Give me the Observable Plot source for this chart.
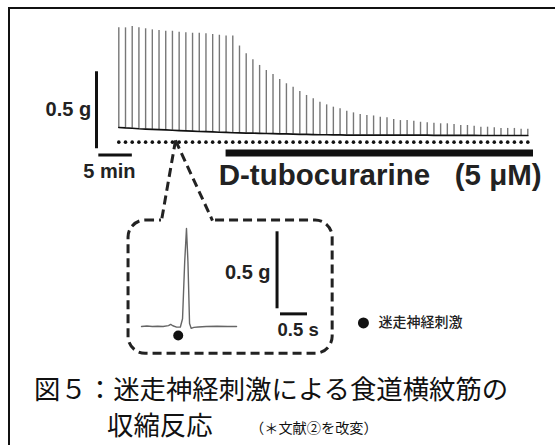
<!DOCTYPE html>
<html><head><meta charset="utf-8">
<script src="https://cdn.jsdelivr.net/npm/d3@7"></script>
<script src="https://cdn.jsdelivr.net/npm/@observablehq/plot@0.6"></script>
<style>
html,body{margin:0;padding:0;background:#fff;}
#wrap{position:relative;width:555px;height:445px;overflow:hidden;background:#fff;}
#wrap svg{position:absolute;left:0;top:0;background:transparent;}
.ft{position:absolute;left:8px;top:7px;width:547px;height:0;border-top:2.5px solid #111;}
.fl{position:absolute;left:8px;top:7px;width:0;height:438px;border-left:2.5px solid #111;}
.cap{position:absolute;font-family:"Noto Sans CJK JP",sans-serif;color:#111;line-height:1;white-space:nowrap;}
</style></head>
<body><div id="wrap"><div class="ft"></div><div class="fl"></div></div>
<script>
// ---- main recording: one twitch per minute (peak & baseline in g, relative to initial baseline)
const peaks = [0.647,0.647,0.656,0.647,0.641,0.634,0.630,0.625,0.625,0.619,
  0.615,0.612,0.612,0.608,0.604,0.599,0.594,0.594,0.529,0.479,
  0.440,0.403,0.370,0.344,0.312,0.284,0.262,0.234,0.208,0.186,
  0.164,0.147,0.132,0.121,0.106,0.095,0.084,0.078,0.075,0.067,
  0.063,0.052,0.045,0.045,0.041,0.034,0.031,0.028,0.024,0.024,
  0.019,0.013,0.013,0.008,0.002,0.002,-0.002,-0.006,-0.006,-0.006,
  -0.011,-0.011];
const baseline = [0,-0.003,-0.005,-0.008,-0.010,-0.012,
  -0.014,-0.016,-0.018,-0.020,-0.022,-0.024,
  -0.026,-0.027,-0.029,-0.031,-0.032,-0.034,
  -0.035,-0.036,-0.037,-0.038,-0.039,-0.040,
  -0.041,-0.042,-0.043,-0.044,-0.045,-0.046,
  -0.047,-0.047,-0.048,-0.048,-0.049,-0.049,
  -0.049,-0.049,-0.049,-0.050,-0.050,-0.050,
  -0.050,-0.050,-0.050,-0.050,-0.050,-0.051,
  -0.051,-0.051,-0.051,-0.051,-0.051,-0.051,
  -0.052,-0.052,-0.052,-0.052,-0.052,-0.052,
  -0.052,-0.052];
const stimLevel = -0.095;           // row of stimulus markers
const drug = {label:"D-tubocurarine\u00a0\u00a0 (5 μM)", start:16, end:61.85, level:-0.166};
const mainScale = {gLabel:"0.5 g", tLabel:"5 min", g:0.5, min:5};
const callout = {t:8.46, y:-0.084, tLeft:6.37, tRight:13.97, yTop:-0.604};

// ---- inset: single twitch (time in s, force in g)
const insetT = [0,0.10,0.20,0.30,0.40,0.50,0.54,0.58,0.65,0.72,0.76,0.80,0.833,0.86,0.89,0.92,0.97,1.05,1.20,1.40,1.60,1.76];
const insetG = [0,0.003,0,0.002,0,0.006,0.014,0.005,-0.004,-0.003,0.05,0.42,0.636,0.42,0.02,-0.012,-0.006,-0.003,0,0.002,0,0];
const insetStim = {t:0.68, g:-0.058};
const legendLabel = "迷走神経刺激";
const insetScale = {gLabel:"0.5 g", sLabel:"0.5 s", g:0.5, s:0.5};

const spikes = peaks.map((p,i)=>({t:i, peak:p, base:baseline[i]}));
const latin = "Liberation Sans, Arial, sans-serif";
const wrap = document.getElementById("wrap");

// inset plot (drawn first, underneath)
const inset = Plot.plot({
  width:555, height:445, style:{background:"transparent"},
  x:{domain:[0,1], range:[141,195], axis:null},
  y:{domain:[0,0.5], range:[326,249], axis:null},
  marks:[
    Plot.rect([{x1:-0.24,x2:3.54,y1:-0.177,y2:0.688}],{x1:"x1",x2:"x2",y1:"y1",y2:"y2",rx:17,fill:"none",stroke:"#222",strokeWidth:3,strokeDasharray:"9,5"}),
    Plot.ruleY([0.688],{x1:0.37,x2:1.31,stroke:"white",strokeWidth:7}),
    Plot.line(insetT.map((t,i)=>({t,g:insetG[i]})),{x:"t",y:"g",stroke:"#666",strokeWidth:1.4}),
    Plot.dot([insetStim],{x:"t",y:"g",r:5,fill:"#111"}),
    Plot.ruleX([2.51],{y1:0.115,y2:0.115+insetScale.g,stroke:"#111",strokeWidth:3}),
    Plot.ruleY([0.082],{x1:2.574,x2:2.574+insetScale.s,stroke:"#111",strokeWidth:3}),
    Plot.text([insetScale.gLabel],{x:2.39,y:0.347,text:d=>d,textAnchor:"end",fontFamily:latin,fontWeight:"bold",fontSize:20,fill:"#222"}),
    Plot.text([insetScale.sLabel],{x:2.9,y:-0.026,text:d=>d,fontFamily:latin,fontWeight:"bold",fontSize:18.5,fill:"#222"}),
    Plot.dot([0],{x:4.11,y:0.023,r:5.5,fill:"#111"}),
    Plot.text([legendLabel],{x:4.39,y:0.023,text:d=>d,textAnchor:"start",fontFamily:"Noto Sans CJK JP",fontWeight:500,fontSize:14,fill:"#222"})
  ]
});
wrap.appendChild(inset);

// main recording plot (on top)
const main = Plot.plot({
  width:555, height:445, style:{background:"transparent"},
  x:{domain:[0,61], range:[118.3,527.3], axis:null},
  y:{domain:[0,0.5], range:[127,50], axis:null},
  marks:[
    Plot.ruleX(spikes,{x:"t",y1:"base",y2:"peak",stroke:"#777",strokeWidth:1.4}),
    Plot.line(spikes,{x:"t",y:"base",stroke:"#111",strokeWidth:1.7}),
    Plot.dot(spikes,{x:"t",y:()=>stimLevel,r:1.8,fill:"#111"}),
    Plot.ruleY([drug],{x1:"start",x2:"end",y:"level",stroke:"#111",strokeWidth:7}),
    Plot.text([drug],{x:14.9,y:-0.314,text:"label",textAnchor:"start",fontFamily:latin,fontWeight:"bold",fontSize:29.5,fill:"#222"}),
    Plot.ruleX([-3.33],{y1:-0.138,y2:-0.138+mainScale.g,stroke:"#111",strokeWidth:3}),
    Plot.ruleY([-0.179],{x1:-2.98,x2:-2.98+mainScale.min,stroke:"#111",strokeWidth:3}),
    Plot.text([mainScale.gLabel],{x:-4.12,y:0.117,text:d=>d,textAnchor:"end",fontFamily:latin,fontWeight:"bold",fontSize:20,fill:"#222"}),
    Plot.text([mainScale.tLabel],{x:-1.39,y:-0.284,text:d=>d,fontFamily:latin,fontWeight:"bold",fontSize:20,fill:"#222"}),
    Plot.link([callout,callout],{x1:"t",y1:"y",x2:(d,i)=>i?d.tRight:d.tLeft,y2:"yTop",stroke:"#222",strokeWidth:3,strokeDasharray:"9,5"})
  ]
});
wrap.appendChild(main);

// caption
const captionLine1 = "図５：迷走神経刺激による食道横紋筋の";
const captionLine2 = "収縮反応";
const captionNote = "（＊文献②を改変）";
function addCap(txt,left,top,size){const d=document.createElement("div");d.className="cap";d.style.left=left+"px";d.style.top=top+"px";d.style.fontSize=size+"px";d.textContent=txt;wrap.appendChild(d);}
addCap(captionLine1,34,375,26.4);
addCap(captionLine2,107,411,26.4);
addCap(captionNote,250,420,14.2);
</script></body></html>
